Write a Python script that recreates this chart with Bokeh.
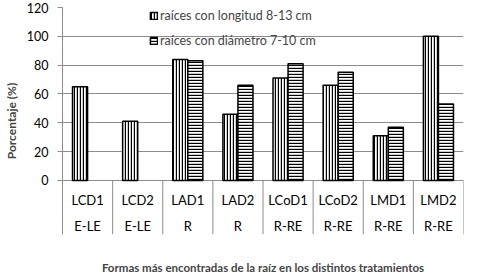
from bokeh.plotting import figure
from bokeh.models import ColumnDataSource, Range1d, FixedTicker
from bokeh.transform import dodge
from bokeh.core.properties import value
from bokeh.embed import file_html
from bokeh.resources import INLINE
import numpy as np

categories = ["LCD1", "LCD2", "LAD1", "LAD2", "LCoD1", "LCoD2", "LMD1", "LMD2"]
groups = ["E-LE", "E-LE", "R", "R", "R-RE", "R-RE", "R-RE", "R-RE"]
longitud = [65, 41, 84, 46, 71, 66, 31, 100]
diametro = [np.nan, np.nan, 83, 66, 81, 75, 37, 53]
y_ticks = [0, 20, 40, 60, 80, 100, 120]

FONT = "Lato"
GRID = "#8c8c8c"
Y_MIN = -37.5   # extends frame below zero for the category table
ROW1, ROW2 = -13.9, -31.3

n = len(categories)
xc = [i + 0.5 for i in range(n)]
src = ColumnDataSource(dict(x=xc, longitud=longitud, diametro=diametro))

p = figure(width=488, height=280, output_backend="svg", toolbar_location=None,
           x_range=Range1d(0, n), y_range=Range1d(Y_MIN, 120),
           min_border_left=60, min_border_right=25, min_border_top=7, min_border_bottom=46)
p.outline_line_color = None

p.vbar(x=dodge("x", -0.15), top="longitud", width=0.3, source=src,
       fill_color="white", line_color="black", line_width=1.5,
       hatch_pattern="vertical_line", hatch_color="black", hatch_scale=3, hatch_weight=1.4,
       legend_label="raíces con longitud 8-13 cm")
p.vbar(x=dodge("x", 0.15), top="diametro", width=0.3, source=src,
       fill_color="white", line_color="black", line_width=1.5,
       hatch_pattern="horizontal_line", hatch_color="black", hatch_scale=3, hatch_weight=1.4,
       legend_label="raíces con diámetro 7-10 cm")

# category table below the baseline
seps = list(range(1, n + 1))
p.segment(x0=seps, y0=[0] * n, x1=seps, y1=[Y_MIN] * n, line_color=GRID, line_width=1)
p.text(x=xc, y=[ROW1] * n, text=categories, text_align="center", text_baseline="middle",
       text_font=value(FONT), text_font_size="13px", text_color="black")
p.text(x=xc, y=[ROW2] * n, text=groups, text_align="center", text_baseline="middle",
       text_font=value(FONT), text_font_size="13px", text_color="black")

# y axis
p.yaxis.ticker = FixedTicker(ticks=y_ticks)
p.yaxis.axis_line_color = GRID
p.yaxis.major_tick_line_color = GRID
p.yaxis.major_tick_out = 5
p.yaxis.major_tick_in = 0
p.yaxis.minor_tick_line_color = None
p.yaxis.major_label_text_font = FONT
p.yaxis.major_label_text_font_size = "12.5px"
p.yaxis.major_label_text_color = "black"
p.yaxis.major_label_standoff = 9
p.yaxis.axis_label = "Porcentaje (%)"
p.yaxis.axis_label_text_font = FONT
p.yaxis.axis_label_text_font_style = "bold"
p.yaxis.axis_label_text_font_size = "12px"
p.yaxis.axis_label_standoff = 5
p.ygrid.grid_line_color = GRID
p.ygrid.ticker = FixedTicker(ticks=y_ticks)

# x axis: only the title
p.xaxis.ticker = FixedTicker(ticks=[])
p.xaxis.axis_line_color = None
p.xaxis.major_tick_line_color = None
p.xaxis.major_tick_out = 0
p.xaxis.major_tick_in = 0
p.xaxis.minor_tick_line_color = None
p.xaxis.major_label_standoff = 0
p.xaxis.axis_label = "Formas más encontradas de la raíz en los distintos tratamientos"
p.xaxis.axis_label_text_font = FONT
p.xaxis.axis_label_text_font_style = "bold"
p.xaxis.axis_label_text_font_size = "11.5px"
p.xaxis.axis_label_standoff = 26
p.xgrid.grid_line_color = None

leg = p.legend[0]
leg.location = (87, 186)
leg.background_fill_alpha = 0
leg.border_line_color = None
leg.padding = 0
leg.margin = 0
leg.glyph_width = 9
leg.glyph_height = 9
leg.label_standoff = 2
leg.label_height = 14
leg.spacing = 10
leg.label_text_font = FONT
leg.label_text_font_size = "12.5px"

open("out.html", "w").write(file_html(p, INLINE))
